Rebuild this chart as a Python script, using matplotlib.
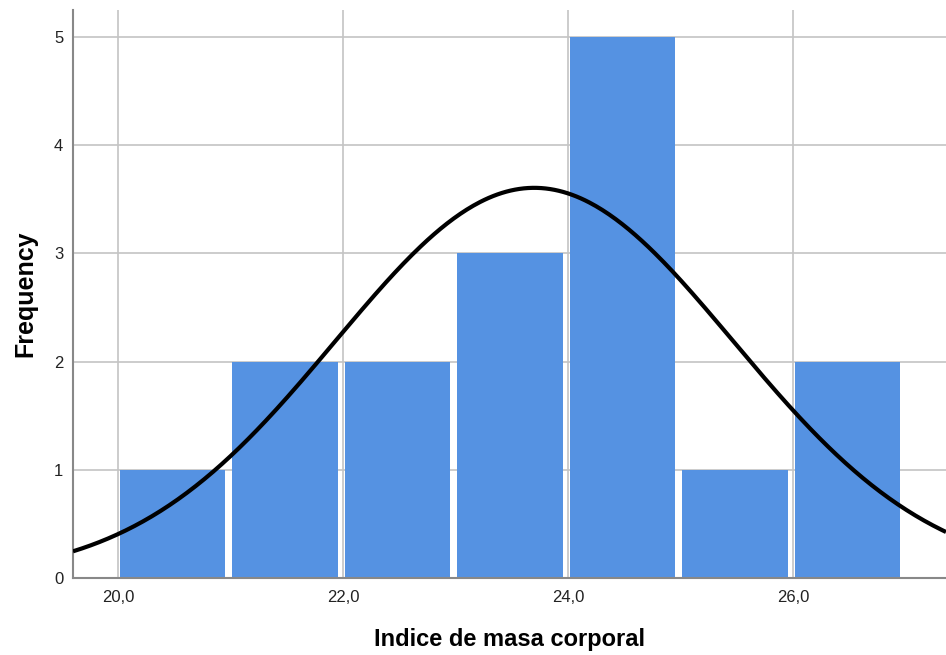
import numpy as np
import matplotlib
matplotlib.use("Agg")
import matplotlib.pyplot as plt

bin_edges = [20, 21, 22, 23, 24, 25, 26, 27]
frequencies = [1, 2, 2, 3, 5, 1, 2]
curve_mean = 23.7
curve_sd = 1.77
n_total = 16
x_ticks = [20, 22, 24, 26]
x_tick_labels = ["20,0", "22,0", "24,0", "26,0"]
y_ticks = [0, 1, 2, 3, 4, 5]

plt.rcParams['font.family'] = ['Liberation Sans', 'DejaVu Sans']

fig = plt.figure(figsize=(9.46, 6.55), dpi=100)
ax = fig.add_axes([73/946, 77/655, 1 - 73/946, (578-10)/655])

lefts = np.array(bin_edges[:-1], dtype=float)
widths = np.diff(bin_edges).astype(float)
gap_left, gap_right = 0.015, 0.045
ax.bar(lefts + gap_left, frequencies, width=widths - gap_left - gap_right,
       align='edge', color='#5592e2', linewidth=0, zorder=2)

xs = np.linspace(19.6, 27.36, 400)
bw = widths[0]
ys = n_total * bw / (curve_sd * np.sqrt(2 * np.pi)) * np.exp(-0.5 * ((xs - curve_mean) / curve_sd) ** 2)
ax.plot(xs, ys, color='black', linewidth=3, zorder=3, solid_capstyle='butt')

ax.set_xlim(19.6, 27.36)
ax.set_ylim(0, 5.25)
ax.set_xticks(x_ticks)
ax.set_xticklabels(x_tick_labels)
ax.set_yticks(y_ticks)
ax.grid(True, color='#c4c4c4', linewidth=1.2, zorder=0)
ax.set_axisbelow(True)
for s in ['top', 'right']:
    ax.spines[s].set_visible(False)
for s in ['left', 'bottom']:
    ax.spines[s].set_color('#888888')
    ax.spines[s].set_linewidth(1.5)
ax.tick_params(length=0, labelsize=12, colors='#222222')
ax.tick_params(axis='x', pad=9)
ax.tick_params(axis='y', pad=7)
ax.set_xlabel('Indice de masa corporal', fontsize=17, fontweight='bold', labelpad=16)
ax.set_ylabel('Frequency', fontsize=18, fontweight='bold', labelpad=12)

fig.savefig('out.png', dpi=100)
